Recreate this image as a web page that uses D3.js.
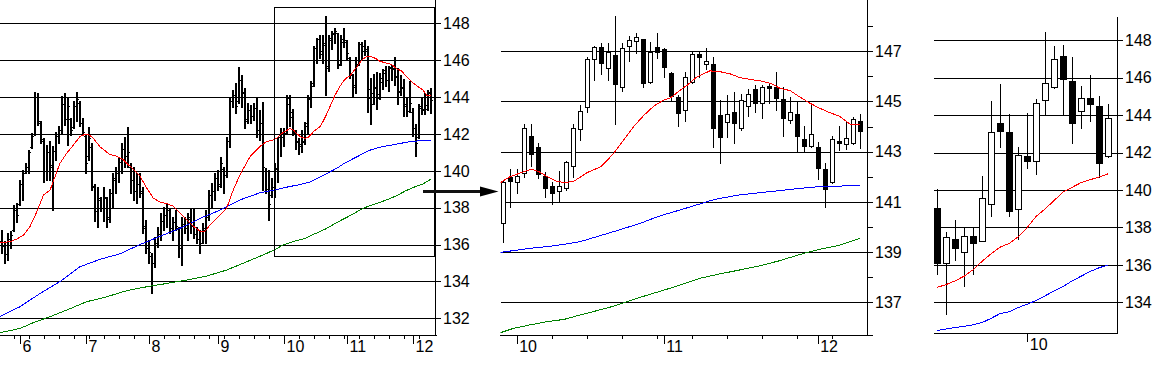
<!DOCTYPE html>
<html>
<head>
<meta charset="utf-8">
<script src="https://cdn.jsdelivr.net/npm/d3@7"></script>
<style>
body { margin: 0; background: #fff; }
svg { display: block; }
text { font-family: "Liberation Sans", Arial, sans-serif; font-size: 16px; fill: #000; }
.crisp { shape-rendering: crispEdges; }
</style>
</head>
<body>
<svg width="1168" height="371"></svg>
<script>
// daily bars, 2022-05-24 .. 2022-12-09 (weekdays)
const firstDay = new Date(2022, 4, 24);
const lastDay = new Date(2022, 11, 10);

const opens = [
  136.2,135.9,135.5,136.3,136.8,137.9,138.2,139.3,140.0,140.2,
  141.3,142.0,144.0,142.6,141.6,140.0,141.0,140.3,141.1,141.9,
  142.2,143.6,142.8,142.8,142.4,143.5,143.7,142.6,141.9,140.8,
  141.3,139.1,137.8,138.4,138.0,138.5,137.5,138.8,139.5,139.9,
  140.5,141.2,140.8,140.2,139.5,138.9,139.3,138.9,137.0,135.8,
  135.4,135.0,136.1,136.6,137.3,137.6,137.9,136.9,137.2,136.9,
  135.8,137.1,136.9,137.4,137.0,136.6,136.3,136.1,136.8,137.5,
  138.7,138.9,139.6,139.3,140.1,139.8,141.6,143.8,144.0,143.8,
  144.9,144.2,142.8,143.3,143.0,143.4,142.2,142.6,140.0,139.0,
  138.7,139.1,
  140.15,141.98,141.81,142.14,143.63,143.19,142.03,141.63,141.45,141.54,
  142.44,143.89,144.77,146.68,147.16,146.32,146.85,145.57,147.21,147.42,
  147.48,145.79,147.16,147.08,146.12,145.19,144.66,145.79,146.89,146.48,
  146.5,144.46,144.2,144.57,143.93,144.82,145.49,144.93,145.62,145.57,
  145.1,144.26,144.5,143.5,143.24,143.2,142.3,141.81,143.43,143.29,
  143.36,144.22
];
const highs = [
  136.8,136.17,136.62,136.71,138.16,138.25,139.52,140.06,140.42,141.14,
  142.05,144.25,144.2,142.68,141.78,141.41,141.6,141.32,142.1,142.45,
  144.04,144.2,143.95,142.86,143.77,144.25,143.77,142.86,142.0,142.4,
  141.5,139.3,139.1,138.6,139.15,138.6,139.0,139.86,140.22,140.77,
  141.49,141.85,142.39,140.4,140.22,139.86,139.86,139.14,137.33,136.25,
  135.52,136.43,136.97,137.69,138.05,138.24,137.96,137.51,137.87,136.97,
  137.51,137.51,137.69,137.96,137.96,136.97,136.79,137.15,137.87,138.96,
  139.32,139.86,140.04,140.77,140.22,141.85,144.02,144.38,144.74,145.65,
  145.2,144.47,143.66,143.57,143.66,144.02,143.3,143.75,140.13,140.04,
  139.59,140.4,
  141.85,142.3,142.3,144.1,144.1,143.35,142.2,141.8,142.23,142.63,
  144.1,144.86,146.76,147.21,147.35,147.35,148.41,147.35,147.61,147.74,
  147.5,147.39,147.74,147.12,146.19,145.26,146.19,146.99,146.99,147.12,
  146.79,145.06,145.26,145.38,145.3,145.51,145.66,145.66,145.73,146.19,
  145.57,145.19,145.0,144.03,144.86,143.4,142.54,143.63,144.03,144.2,
  144.4,144.49
];
const lows = [
  135.54,134.99,135.18,135.81,136.71,137.25,138.16,138.43,139.88,139.88,
  141.23,141.96,142.5,141.5,139.42,139.52,139.52,137.89,140.6,141.5,
  142.05,142.5,141.41,141.96,142.32,142.68,142.41,141.96,139.87,140.6,
  138.97,137.3,136.95,137.8,137.3,136.97,137.2,138.05,138.78,139.41,
  139.86,140.22,140.22,138.78,138.42,138.24,138.6,136.61,135.52,134.98,
  133.35,134.8,135.88,136.25,136.79,136.97,136.61,136.25,136.79,135.34,
  134.89,136.61,136.25,136.61,136.34,136.07,135.52,136.07,136.07,137.33,
  138.05,138.42,138.96,139.14,138.78,139.68,141.31,143.48,143.12,143.66,
  143.48,142.3,142.58,142.58,142.76,141.85,141.67,138.96,138.78,137.33,
  138.6,138.6,
  139.42,140.78,141.37,142.0,142.44,141.95,141.2,140.92,141.0,141.47,
  141.98,143.47,144.6,145.86,146.1,145.86,144.1,145.43,146.63,146.95,
  145.57,145.75,146.72,145.99,145.06,144.03,144.24,145.75,145.99,146.3,
  143.2,142.56,143.6,143.36,143.87,144.44,144.6,144.33,144.93,144.66,
  143.63,144.13,143.0,143.0,143.2,141.9,140.78,141.77,143.07,143.1,
  143.29,143.16
];
const closes = [
  135.9,135.5,136.3,136.5,137.9,137.6,139.3,139.9,140.2,141.0,
  141.9,144.0,142.7,141.7,140.0,141.0,140.2,141.1,141.9,142.2,
  143.6,142.8,143.5,142.2,143.5,143.9,142.6,142.1,140.4,141.8,
  139.2,137.8,138.5,138.0,138.6,137.4,138.8,139.6,139.9,140.5,
  141.2,140.8,141.0,139.5,138.9,139.3,138.8,136.9,135.8,135.6,
  135.0,136.1,136.6,137.3,137.6,137.9,136.9,137.2,137.0,135.8,
  137.1,136.9,137.5,137.0,136.6,136.3,136.0,136.9,137.5,138.7,
  138.9,139.6,139.2,140.4,139.8,141.6,143.8,144.1,143.5,144.9,
  144.3,142.7,143.3,143.0,143.4,142.2,142.6,140.2,139.0,138.2,
  139.1,140.1,
  141.81,141.85,142.05,143.93,142.9,142.1,141.57,141.37,141.63,142.58,
  143.93,144.62,146.68,147.16,146.52,146.96,145.69,147.12,147.45,147.56,
  145.75,146.99,146.99,146.39,145.22,144.56,145.99,146.89,146.79,146.61,
  143.93,143.6,144.49,144.16,145.06,145.29,144.93,145.57,145.53,145.15,
  144.33,144.57,143.64,143.24,143.69,142.34,141.5,143.49,143.36,143.56,
  144.3,143.84
];

// moving averages: [trading day index, value]
const maRed = [
  [-0.7,136.1],[2.7,136.16],[4.9,136.3],[7.1,136.5],[9.3,136.97],[11.6,137.78],[13.8,138.68],[16,138.95],
  [17.7,139.7],[19.3,140.4],[21.6,140.96],[23.8,141.4],[26,141.86],[27.7,141.98],[28.8,141.98],[30.4,141.77],
  [32.7,141.3],[36,140.88],[38.2,140.79],[40.4,140.6],[43.8,140.07],[46,139.71],[48.2,139.07],[50.4,138.53],
  [52.7,138.3],[54.9,138.22],[57.1,138.08],[59.3,137.72],[61.6,137.36],[63.8,137.0],[66,136.73],[67.7,136.73],
  [69.3,137.05],[71.6,137.44],[74.9,137.98],[77.1,138.97],[79.3,139.78],[82.7,140.77],[86,141.32],[88.2,141.59],
  [90.4,141.68],[91.7,141.77],[93,142.0],[95,142.2],[96.1,142.3],[97.2,142.2],[98.4,142.0],[99.8,141.81],
  [101,141.77],[102.2,141.83],[104.1,142.17],[106,142.4],[107,142.67],[107.9,142.96],[109.3,143.47],[110.8,144.03],
  [112.2,144.46],[113.6,144.82],[115,145.06],[116,145.15],[117.4,145.46],[118.4,145.66],[119.8,145.99],[121.6,146.22],
  [123,146.19],[124.5,146.1],[125.9,145.95],[127.3,145.88],[128.8,145.82],[130.2,145.73],[131.6,145.53],[133.1,145.43],
  [134.5,145.17],[135.9,144.93],[137.3,144.73],[138.7,144.56],[140.2,144.4],[141.6,144.1],[143,144.09]
];
const maBlue = [
  [-0.7,132.09],[6,132.63],[12.7,133.35],[19.3,133.99],[26,134.8],[32.7,135.2],[39.3,135.5],[46,136.0],
  [52.7,136.45],[59.3,136.88],[66,137.42],[72.7,137.87],[79.3,138.42],[86,138.81],[91.7,138.99],[95.9,139.15],
  [98.4,139.22],[100.8,139.31],[103.1,139.42],[105.5,139.62],[107.9,139.82],[109.3,139.94],[111.7,140.15],[114.1,140.41],
  [116.5,140.61],[118.9,140.81],[121.7,141.05],[123,141.14],[125.9,141.28],[128.8,141.37],[131.6,141.45],[134.5,141.54],
  [137.3,141.61],[140.2,141.63],[143,141.67]
];
const maGreen = [
  [-0.7,131.22],[6,131.45],[10.4,131.76],[16,132.09],[21.6,132.45],[28.2,132.9],[34.9,133.17],[41.6,133.5],
  [48.2,133.71],[54.9,133.89],[61.6,134.08],[68.2,134.29],[74.9,134.62],[81.6,135.07],[88.2,135.52],[91.7,135.79],
  [93.5,135.96],[95.9,136.1],[98.4,136.23],[100.8,136.32],[103.1,136.5],[105.5,136.67],[107.9,136.85],[109.8,137.03],
  [112.7,137.29],[115.1,137.49],[117.4,137.69],[120.2,137.96],[123,138.13],[125.9,138.29],[128.8,138.46],[131.6,138.66],
  [134.5,138.91],[137.3,139.11],[140.2,139.28],[143,139.55]
];

const monthStarts = ['2022-06-01','2022-07-01','2022-08-01','2022-09-01','2022-10-03','2022-11-01','2022-12-01'];
const monthLabels = ['6','7','8','9','10','11','12'];

// zoom window shown in the middle panel
const zoomFrom = 90.7, zoomTo = 143.9, zoomHigh = 148.87, zoomLow = 135.36;

// right panel candles
const rOpen  = [139.02,136.12,137.37,136.67,137.54,137.28,139.24,143.56,143.08,138.97,141.82,141.57,144.81,145.52,147.16,145.83,144.22,144.9,144.49,141.82];
const rHigh  = [140.04,137.74,138.4,138.01,138.01,140.75,144.78,145.67,144.06,142.32,144.13,144.86,148.46,147.7,147.75,147.13,145.56,146.15,145.03,144.58];
const rLow   = [135.51,133.36,136.26,134.89,135.51,137.28,138.61,142.28,138.61,137.37,141.2,140.86,144.06,145.43,144.01,142.53,143.33,143.69,140.71,141.75];
const rClose = [136.12,137.47,136.89,137.54,137.19,139.56,143.12,143.17,138.9,141.85,141.57,144.63,145.7,146.98,145.95,143.6,144.9,144.58,141.46,143.83];
const rRed  = [134.8,134.95,135.15,135.4,135.75,136.2,136.6,136.95,137.15,137.5,138.0,138.6,139.0,139.45,139.9,140.15,140.4,140.55,140.7,140.87];
const rBlue = [132.49,132.58,132.65,132.72,132.8,132.92,133.15,133.4,133.5,133.72,133.9,134.1,134.35,134.62,134.85,135.15,135.4,135.65,135.85,136.0];
const rTickAt = [10];
const rTickLabels = ['10'];

const svg = d3.select('svg');
const px = (v) => Math.round(v) + 0.5;

const days = d3.timeDay.range(firstDay, lastDay).filter((d) => d.getDay() !== 0 && d.getDay() !== 6);
const dayIndex = (s) => days.findIndex((d) => d3.timeFormat('%Y-%m-%d')(d) === s);
const monthIdx = monthStarts.map(dayIndex);
const mondayIdx = days.map((d, i) => (d.getDay() === 1 ? i : -1)).filter((i) => i >= 0);

function gridAndAxis(g, yScale, gridVals, tickVals, x0, axisX, gridEnd, yTop, yBottom) {
    g.selectAll('line.grid')
        .data(gridVals)
        .enter()
        .append('line')
        .attr('class', 'crisp')
        .attr('x1', x0)
        .attr('x2', gridEnd)
        .attr('y1', (d) => px(yScale(d)))
        .attr('y2', (d) => px(yScale(d)))
        .attr('stroke', '#000');
    g.selectAll('line.minor')
        .data(tickVals)
        .enter()
        .append('line')
        .attr('class', 'crisp')
        .attr('x1', axisX)
        .attr('x2', gridEnd)
        .attr('y1', (d) => px(yScale(d)))
        .attr('y2', (d) => px(yScale(d)))
        .attr('stroke', '#000');
    g.append('line')
        .attr('class', 'crisp')
        .attr('x1', px(axisX)).attr('x2', px(axisX))
        .attr('y1', yTop).attr('y2', yBottom)
        .attr('stroke', '#000');
    g.selectAll('text.ylab')
        .data(gridVals)
        .enter()
        .append('text')
        .attr('x', gridEnd + 2)
        .attr('y', (d) => yScale(d))
        .attr('dy', '0.36em')
        .text((d) => d);
}

function xAxis(g, xScale, y, x0, x1, majors, labels, minors) {
    g.append('line')
        .attr('class', 'crisp')
        .attr('x1', x0).attr('x2', x1)
        .attr('y1', px(y)).attr('y2', px(y))
        .attr('stroke', '#000');
    const minorAxis = d3.axisBottom(xScale).tickValues(minors).tickSize(4).tickFormat('');
    g.append('g').attr('class', 'crisp').attr('transform', 'translate(0,' + y + ')').call(minorAxis)
        .call((s) => s.select('.domain').remove());
    const majorAxis = d3.axisBottom(xScale).tickValues(majors).tickSize(9)
        .tickFormat((d, i) => labels[i]);
    g.append('g').attr('class', 'crisp').attr('transform', 'translate(0,' + y + ')').call(majorAxis)
        .call((s) => s.select('.domain').remove())
        .call((s) => s.selectAll('text')
            .attr('text-anchor', 'start')
            .attr('x', 2)
            .attr('y', 6)
            .attr('dy', '0.71em')
            .attr('font-family', null)
            .attr('font-size', null));
    g.selectAll('.tick line').attr('stroke', '#000');
}

function maLine(g, xScale, yScale, pts, color) {
    g.append('path')
        .datum(pts)
        .attr('class', 'crisp')
        .attr('fill', 'none')
        .attr('stroke', color)
        .attr('stroke-width', 1)
        .attr('d', d3.line().x((d) => xScale(d[0])).y((d) => yScale(d[1])));
}

function drawCandles(g, xScale, yScale, idx, O, H, L, C, half) {
    const c = g.selectAll('g.c').data(idx).enter().append('g').attr('class', 'crisp');
    c.append('line')
        .attr('x1', (i) => px(xScale(i)))
        .attr('x2', (i) => px(xScale(i)))
        .attr('y1', (i) => Math.round(yScale(H[i])))
        .attr('y2', (i) => Math.round(yScale(L[i])) + 1)
        .attr('stroke', '#000');
    c.append('rect')
        .attr('x', (i) => Math.round(xScale(i)) - half + 0.5)
        .attr('width', half * 2)
        .attr('y', (i) => px(yScale(Math.max(O[i], C[i]))))
        .attr('height', (i) => Math.max(1, Math.round(yScale(Math.min(O[i], C[i]))) - Math.round(yScale(Math.max(O[i], C[i])))))
        .attr('fill', (i) => (C[i] >= O[i] ? '#fff' : '#000'))
        .attr('stroke', '#000');
}

// ---------- left panel: OHLC bars ----------
const xL = d3.scaleLinear().domain([0, 143]).range([2, 431]);
const yL = d3.scaleLinear().domain([132, 148]).range([318.33, 23.33]);
const left = svg.append('g');
svg.append('clipPath').attr('id', 'clipL').append('rect').attr('x', 0).attr('y', 0).attr('width', 435).attr('height', 335);

gridAndAxis(left, yL, yL.ticks(8), [], 0, 435, 441, 0, 336);
xAxis(left, xL, 335, 0, 437, monthIdx, monthLabels, mondayIdx);

const bars = left.append('g').attr('class', 'crisp').attr('clip-path', 'url(#clipL)');
const idxAll = d3.range(days.length);
bars.selectAll('rect.hl')
    .data(idxAll)
    .enter()
    .append('rect')
    .attr('x', (i) => Math.round(xL(i)) - 1)
    .attr('width', 2)
    .attr('y', (i) => Math.round(yL(highs[i])))
    .attr('height', (i) => Math.round(yL(lows[i])) - Math.round(yL(highs[i])) + 1)
    .attr('fill', '#000');
bars.selectAll('rect.o')
    .data(idxAll)
    .enter()
    .append('rect')
    .attr('x', (i) => Math.round(xL(i)) - 2)
    .attr('width', 1)
    .attr('y', (i) => Math.round(yL(opens[i])))
    .attr('height', 1)
    .attr('fill', '#000');
bars.selectAll('rect.c')
    .data(idxAll)
    .enter()
    .append('rect')
    .attr('x', (i) => Math.round(xL(i)) + 1)
    .attr('width', 1)
    .attr('y', (i) => Math.round(yL(closes[i])))
    .attr('height', 1)
    .attr('fill', '#000');

const linesL = left.append('g').attr('clip-path', 'url(#clipL)');
maLine(linesL, xL, yL, maGreen, '#008000');
maLine(linesL, xL, yL, maBlue, '#0000ff');
maLine(linesL, xL, yL, maRed, '#ff0000');

left.append('rect')
    .attr('class', 'crisp')
    .attr('x', px(xL(zoomFrom)))
    .attr('y', px(yL(zoomHigh)))
    .attr('width', Math.round(xL(zoomTo)) - Math.round(xL(zoomFrom)))
    .attr('height', Math.round(yL(zoomLow)) - Math.round(yL(zoomHigh)))
    .attr('fill', 'none')
    .attr('stroke', '#000');

// arrow
svg.append('line')
    .attr('x1', 423).attr('x2', 484)
    .attr('y1', 191.5).attr('y2', 191.5)
    .attr('stroke', '#111')
    .attr('stroke-width', 3);
svg.append('path')
    .attr('d', 'M480,186.5 L498.5,191.5 L480,196.5 Z')
    .attr('fill', '#000');

// ---------- middle panel: zoomed candles ----------
const xM = d3.scaleLinear().domain([92, 143]).range([502.7, 859.7]);
const yM = d3.scaleLinear().domain([137, 147]).range([302.3, 51.3]);
const mid = svg.append('g');
svg.append('clipPath').attr('id', 'clipM').append('rect').attr('x', 500.5).attr('y', 0).attr('width', 367).attr('height', 335);

gridAndAxis(mid, yM, [137, 139, 141, 143, 145, 147], [138, 140, 142, 144, 146, 148], 500.5, 867, 873, 0, 336);
const midIdx = d3.range(92, 144);
xAxis(mid, xM, 335, 500, 873,
    monthIdx.filter((i) => i >= 92), monthLabels.filter((l, k) => monthIdx[k] >= 92),
    mondayIdx.filter((i) => i >= 92));

drawCandles(mid.append('g'), xM, yM, midIdx, opens, highs, lows, closes, 2);

const linesM = mid.append('g').attr('clip-path', 'url(#clipM)');
maLine(linesM, xM, yM, maGreen, '#008000');
maLine(linesM, xM, yM, maBlue, '#0000ff');
maLine(linesM, xM, yM, maRed, '#ff0000');

// ---------- right panel ----------
const xR = d3.scaleLinear().domain([0, 19]).range([937.3, 1108.3]);
const yR = d3.scaleLinear().domain([134, 148]).range([302.3, 40.3]);
const right = svg.append('g');
gridAndAxis(right, yR, yR.ticks(7), [], 934, 1117, 1123, 17, 334);
xAxis(right, xR, 333, 934, 1118, rTickAt, rTickLabels, []);

drawCandles(right.append('g'), xR, yR, d3.range(rOpen.length), rOpen, rHigh, rLow, rClose, 3);
maLine(right, xR, yR, rBlue.map((v, k) => [k, v]), '#0000ff');
maLine(right, xR, yR, rRed.map((v, k) => [k, v]), '#ff0000');
</script>
</body>
</html>
